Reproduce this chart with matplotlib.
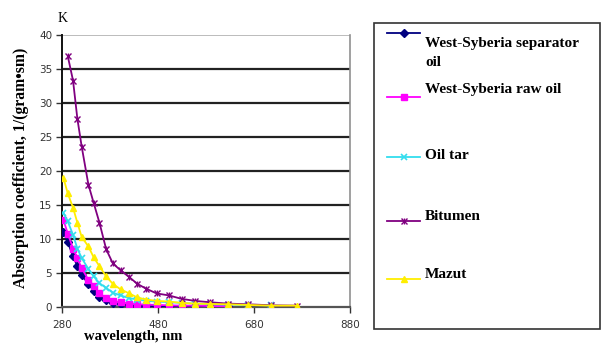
import matplotlib
matplotlib.use("Agg")
import matplotlib.pyplot as plt
from matplotlib.lines import Line2D
from matplotlib.patches import Rectangle

# Wavelengths, nm
wavelength = [283, 292, 303, 312, 321, 335, 346, 358, 372, 386, 402, 420,
              437, 455, 477, 503, 529, 557, 588, 626, 667, 715, 770]

# Absorption coefficient K, 1/(gram*sm)
separator_oil = [11.1, 9.5, 7.5, 6.0, 4.7, 3.4, 2.4, 1.5, 1.0, 0.6, 0.4, 0.3,
                 0.2, 0.15, 0.1, 0.1, 0.1, 0.1, 0.1, 0.1]
raw_oil = [12.8, 10.8, 8.6, 7.2, 5.7, 4.0, 3.1, 2.0, 1.3, 0.9, 0.7, 0.5,
           0.4, 0.35, 0.3, 0.25, 0.2, 0.2, 0.15, 0.1]
oil_tar = [13.8, 12.6, 10.6, 8.6, 7.2, 5.6, 4.5, 3.5, 2.8, 2.1, 1.7, 1.3,
           1.1, 0.9, 0.8, 0.7, 0.6, 0.5, 0.4, 0.35, 0.3, 0.25]
bitumen_wavelength = wavelength[1:]
bitumen = [36.9, 33.3, 27.7, 23.6, 18.0, 15.3, 12.4, 8.5, 6.4, 5.4, 4.4,
           3.4, 2.7, 2.0, 1.7, 1.2, 0.9, 0.7, 0.5, 0.4, 0.25, 0.2]
mazut = [19.0, 16.7, 14.6, 12.4, 10.3, 8.9, 7.3, 6.0, 4.5, 3.4, 2.6, 2.0,
         1.4, 1.1, 0.9, 0.8, 0.6, 0.5, 0.45, 0.4, 0.3, 0.2, 0.2]

x_ticks = [280, 480, 680, 880]
y_ticks = [0, 5, 10, 15, 20, 25, 30, 35, 40]

series = [
    ("West-Syberia separator\noil", wavelength[:len(separator_oil)], separator_oil,
     dict(color="#000080", marker="D", markersize=4)),
    ("West-Syberia raw oil", wavelength[:len(raw_oil)], raw_oil,
     dict(color="#FF00FF", marker="s", markersize=5)),
    ("Oil tar", wavelength[:len(oil_tar)], oil_tar,
     dict(color="#33DDEE", marker="x", markersize=5, markeredgewidth=1.2)),
    ("Bitumen", bitumen_wavelength, bitumen,
     dict(color="#800080", marker=None, markersize=0)),
    ("Mazut", wavelength[:len(mazut)], mazut,
     dict(color="#FFEE00", marker="^", markersize=5)),
]

W, H = 601, 344
fig = plt.figure(figsize=(W / 100, H / 100), dpi=100)
fig.patch.set_facecolor("white")

ax = fig.add_axes([62 / W, (H - 307) / H, 288 / W, 272 / H])
ax.set_xlim(280, 880)
ax.set_ylim(0, 40)

for yv in y_ticks[1:-1]:
    ax.axhline(yv, color="#222222", lw=1.6, zorder=1)
ax.axhline(40, color="#b0b0b0", lw=1.2, zorder=1)


def star_marks(target, xs, ys, color, size, transform=None):
    # Excel-style star: an "x" crossed by a vertical bar
    kw = {} if transform is None else dict(transform=transform)
    for m in ["x", "|"]:
        art = Line2D(xs, ys, ls="none", marker=m, color=color,
                     markersize=size, markeredgewidth=1.0, zorder=3, **kw)
        target.add_artist(art) if transform is not None else target.add_line(art)


for name, xs, ys, style in series:
    st = dict(style)
    if name == "Bitumen":
        ax.plot(xs, ys, color=st["color"], lw=1.3, zorder=3)
        star_marks(ax, xs, ys, st["color"], 4.5)
    else:
        ax.plot(xs, ys, lw=1.3, zorder=3, **st)

ax.spines["top"].set_visible(False)
ax.spines["right"].set_color("#909090")
ax.spines["right"].set_linewidth(1.2)
ax.spines["left"].set_color("#111111")
ax.spines["left"].set_linewidth(1.4)
ax.spines["bottom"].set_color("#555555")
ax.spines["bottom"].set_linewidth(1.6)

ax.set_xticks(x_ticks)
ax.set_yticks(y_ticks)
ax.tick_params(axis="both", direction="out", length=4, width=1,
               color="#333333", labelsize=7.5, labelcolor="#333333")
ax.tick_params(axis="x", pad=5)
ax.tick_params(axis="y", pad=3)
for lab in ax.get_xticklabels() + ax.get_yticklabels():
    lab.set_fontfamily("DejaVu Sans")

serif = "Liberation Serif"
fig.text(63 / W, 1 - 18 / H, "K", fontsize=10, family=serif,
         ha="center", va="center")
fig.text(21 / W, 1 - 168 / H, "Absorption coefficient, 1/(gram\u2022sm)",
         rotation=90, fontsize=11.3, fontweight="bold", family=serif,
         ha="center", va="center")
fig.text(133 / W, 1 - 343 / H, "wavelength, nm", fontsize=10.5,
         fontweight="bold", family=serif, ha="center", va="bottom")

# Legend panel
fig.patches.append(Rectangle((374 / W, 1 - 329 / H), 226 / W, 306 / H,
                             transform=fig.transFigure, fill=False,
                             edgecolor="#333333", lw=1.2))
legend_rows = [(33, 43), (97, 89), (157, 156), (221, 217), (279, 275)]
for (name, xs, ys, style), (ly, ty) in zip(series, legend_rows):
    st = dict(style)
    yy = 1 - ly / H
    fig.add_artist(Line2D([387 / W, 420 / W], [yy, yy], color=st["color"],
                          lw=1.3, transform=fig.transFigure))
    if name == "Bitumen":
        star_marks(fig, [403.5 / W], [yy], st["color"], 4.5,
                   transform=fig.transFigure)
    else:
        fig.add_artist(Line2D([403.5 / W], [yy], ls="none",
                              transform=fig.transFigure,
                              **{k: v for k, v in st.items()}))
    lines = name.split("\n")
    for i, txt in enumerate(lines):
        fig.text(425 / W, 1 - (ty + 19 * i) / H, txt, fontsize=11,
                 fontweight="bold", family=serif, ha="left", va="center")

fig.savefig("out.png", dpi=100)
